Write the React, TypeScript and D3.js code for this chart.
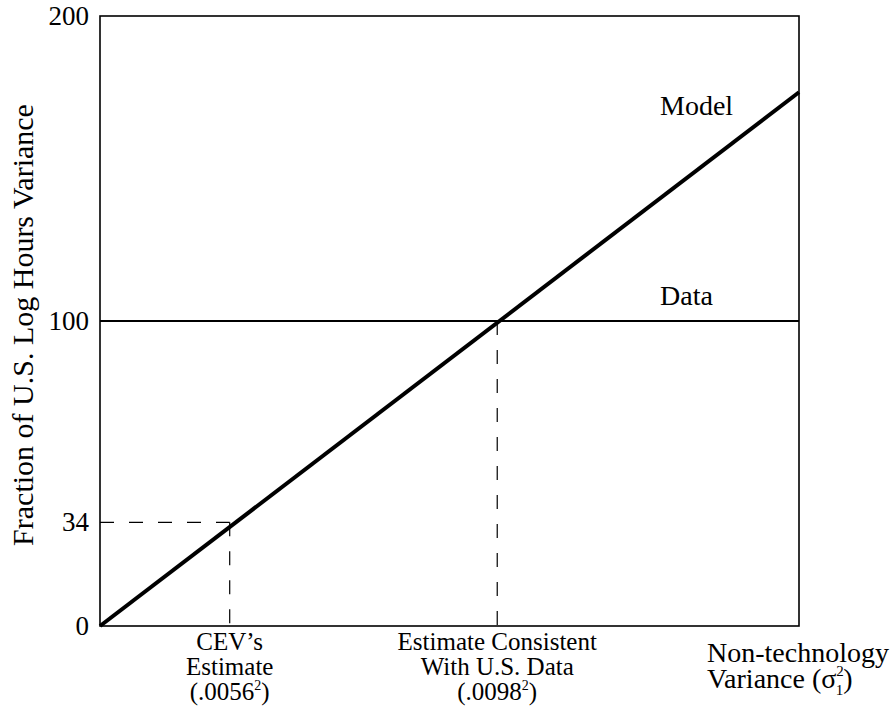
import React from "react";
import * as d3 from "d3";

// Values in units of 1e-4 (variance of non-technology shock)
const xDomain = [0, 1.69];
const yDomain = [0, 200];
const yTicks = [0, 34, 100, 200];
const modelPoints = [
  { v: 0, f: 0 },
  { v: 1.69, f: 175 },
];
const dataLevel = 100;
const cevEstimate = 0.3136; // .0056^2
const cevFraction = 34;
const usEstimate = 0.9604; // .0098^2
const xTickLabels = [
  { v: cevEstimate, lines: ["CEV\u2019s", "Estimate"], num: ".0056" },
  { v: usEstimate, lines: ["Estimate Consistent", "With U.S. Data"], num: ".0098" },
];

const W = 896;
const H = 711;
const M = { left: 100, right: 799, top: 16, bottom: 626 };
const FONT = "'Liberation Serif', 'Times New Roman', serif";

export default function App() {
  const x = d3.scaleLinear().domain(xDomain).range([M.left, M.right]);
  const y = d3.scaleLinear().domain(yDomain).range([M.bottom, M.top]);
  const line = d3
    .line<{ v: number; f: number }>()
    .x((d) => x(d.v))
    .y((d) => y(d.f));

  return (
    <svg
      width={W}
      height={H}
      style={{ position: "absolute", left: 0, top: 0, background: "#fff" }}
      fontFamily={FONT}
    >
      {/* dashed guides */}
      <g stroke="#000" strokeWidth={1.2} strokeDasharray="14,15" fill="none">
        <line x1={x(0)} x2={x(cevEstimate)} y1={y(cevFraction)} y2={y(cevFraction)} />
        <line x1={x(cevEstimate)} x2={x(cevEstimate)} y1={y(cevFraction)} y2={y(0)} />
        <line x1={x(usEstimate)} x2={x(usEstimate)} y1={y(dataLevel)} y2={y(0)} />
      </g>
      {/* data line */}
      <line
        x1={x(xDomain[0])}
        x2={x(xDomain[1])}
        y1={y(dataLevel)}
        y2={y(dataLevel)}
        stroke="#000"
        strokeWidth={2.2}
      />
      {/* model line */}
      <path d={line(modelPoints) || ""} stroke="#000" strokeWidth={4} fill="none" />
      {/* frame */}
      <rect
        x={M.left}
        y={M.top}
        width={M.right - M.left}
        height={M.bottom - M.top}
        fill="none"
        stroke="#000"
        strokeWidth={1.6}
      />
      {/* y ticks */}
      <g fontSize={27} textAnchor="end">
        {yTicks.map((t) => (
          <text key={t} x={M.left - 11} y={y(t)} dy="0.33em">
            {t}
          </text>
        ))}
      </g>
      {/* x tick labels */}
      <g fontSize={25} textAnchor="middle">
        {xTickLabels.map((d) => (
          <text key={d.num} x={x(d.v)} y={650}>
            <tspan x={x(d.v)} y={650}>{d.lines[0]}</tspan>
            <tspan x={x(d.v)} y={675}>{d.lines[1]}</tspan>
            <tspan x={x(d.v)} y={700}>
              ({d.num}
              <tspan fontSize={14} dy={-10}>2</tspan>
              <tspan dy={10}>)</tspan>
            </tspan>
          </text>
        ))}
      </g>
      {/* line labels */}
      <text x={660} y={115} fontSize={28}>Model</text>
      <text x={660} y={305} fontSize={28}>Data</text>
      {/* x axis title */}
      <text x={707} y={662} fontSize={28}>
        <tspan x={707} y={662}>Non-technology</tspan>
        <tspan x={707} y={688}>
          Variance (σ
          <tspan fontSize={15} dy={-12}>2</tspan>
          <tspan fontSize={15} dx={-8} dy={19}>1</tspan>
          <tspan dy={-7}>)</tspan>
        </tspan>
      </text>
      {/* y axis title */}
      <text
        transform={`translate(33, ${(M.top + M.bottom) / 2 + 4}) rotate(-90)`}
        textAnchor="middle"
        fontSize={30}
      >
        Fraction of U.S. Log Hours Variance
      </text>
    </svg>
  );
}
